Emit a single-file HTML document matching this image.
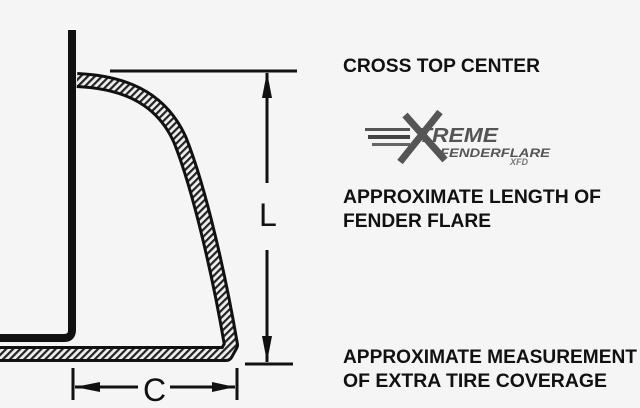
<!DOCTYPE html>
<html><head><style>
html,body{margin:0;padding:0;background:#f5f5f5;}
svg{display:block}
text{font-family:"Liberation Sans",Arial,sans-serif;font-weight:bold;fill:#111}
</style></head><body>
<svg width="640" height="408" viewBox="0 0 640 408" xmlns="http://www.w3.org/2000/svg">
<defs>
<pattern id="h" width="5" height="5" patternUnits="userSpaceOnUse" patternTransform="rotate(45)">
<rect width="5" height="5" fill="#eee"/><rect width="2.2" height="5" fill="#222"/>
</pattern>
</defs>
<rect width="640" height="408" fill="#f5f5f5"/>
<!-- wall -->
<path d="M72 30 L72 330 Q72 338 64 338 L0 338" fill="none" stroke="#111" stroke-width="8"/>
<!-- flare -->
<path d="M77 80 C120 82 160 95 180 140 C200 190 220 280 231 345 L226 354 L0 354" fill="none" stroke="#111" stroke-width="16" stroke-linejoin="round"/>
<path d="M77 80 C120 82 160 95 180 140 C200 190 220 280 231 345 L226 354 L0 354" fill="none" stroke="url(#h)" stroke-width="10" stroke-linejoin="round"/>
<!-- L dimension -->
<line x1="110" y1="71" x2="297" y2="71" stroke="#111" stroke-width="3"/>
<line x1="245" y1="364" x2="293" y2="364" stroke="#111" stroke-width="3"/>
<line x1="267" y1="73" x2="267" y2="183" stroke="#111" stroke-width="3"/>
<line x1="267" y1="250" x2="267" y2="362" stroke="#111" stroke-width="3"/>
<polygon points="267,72 262,98 272,98" fill="#111"/>
<polygon points="267,362 262,336 272,336" fill="#111"/>
<text x="259" y="226" font-size="32" style="font-weight:normal">L</text>
<!-- C dimension -->
<line x1="73" y1="368" x2="73" y2="400" stroke="#111" stroke-width="3"/>
<line x1="237" y1="368" x2="237" y2="400" stroke="#111" stroke-width="3"/>
<line x1="75" y1="387" x2="138" y2="387" stroke="#111" stroke-width="3"/>
<line x1="170" y1="387" x2="235" y2="387" stroke="#111" stroke-width="3"/>
<polygon points="75,387 100,382 100,392" fill="#111"/>
<polygon points="235,387 212,382 212,392" fill="#111"/>
<text x="143" y="401" font-size="32" style="font-weight:normal">C</text>
<!-- labels -->
<text x="343" y="72" font-size="19" textLength="197" lengthAdjust="spacingAndGlyphs">CROSS TOP CENTER</text>
<text x="343" y="203" font-size="19" textLength="258" lengthAdjust="spacingAndGlyphs">APPROXIMATE LENGTH OF</text>
<text x="343" y="227" font-size="19" textLength="148" lengthAdjust="spacingAndGlyphs">FENDER FLARE</text>
<text x="343" y="363" font-size="19" textLength="294" lengthAdjust="spacingAndGlyphs">APPROXIMATE MEASUREMENT</text>
<text x="343" y="387" font-size="19" textLength="264" lengthAdjust="spacingAndGlyphs">OF EXTRA TIRE COVERAGE</text>
<!-- logo -->
<g>
<rect x="365" y="128" width="45" height="3" fill="#555"/>
<rect x="368" y="135" width="42" height="4" fill="#444"/>
<rect x="372" y="143" width="38" height="3" fill="#666"/>
<path d="M405 115 L445 160 M440 112 L400 162" stroke="#555" stroke-width="7"/>
<text x="418" y="142" font-size="20" font-style="italic" style="fill:#555" textLength="80" lengthAdjust="spacingAndGlyphs">TREME</text>
<text x="440" y="157" font-size="12" font-style="italic" style="fill:#555" textLength="110" lengthAdjust="spacingAndGlyphs">FENDERFLARE</text>
<text x="510" y="165" font-size="9" font-style="italic" style="fill:#777">XFD</text>
</g>
</svg>
</body></html>
